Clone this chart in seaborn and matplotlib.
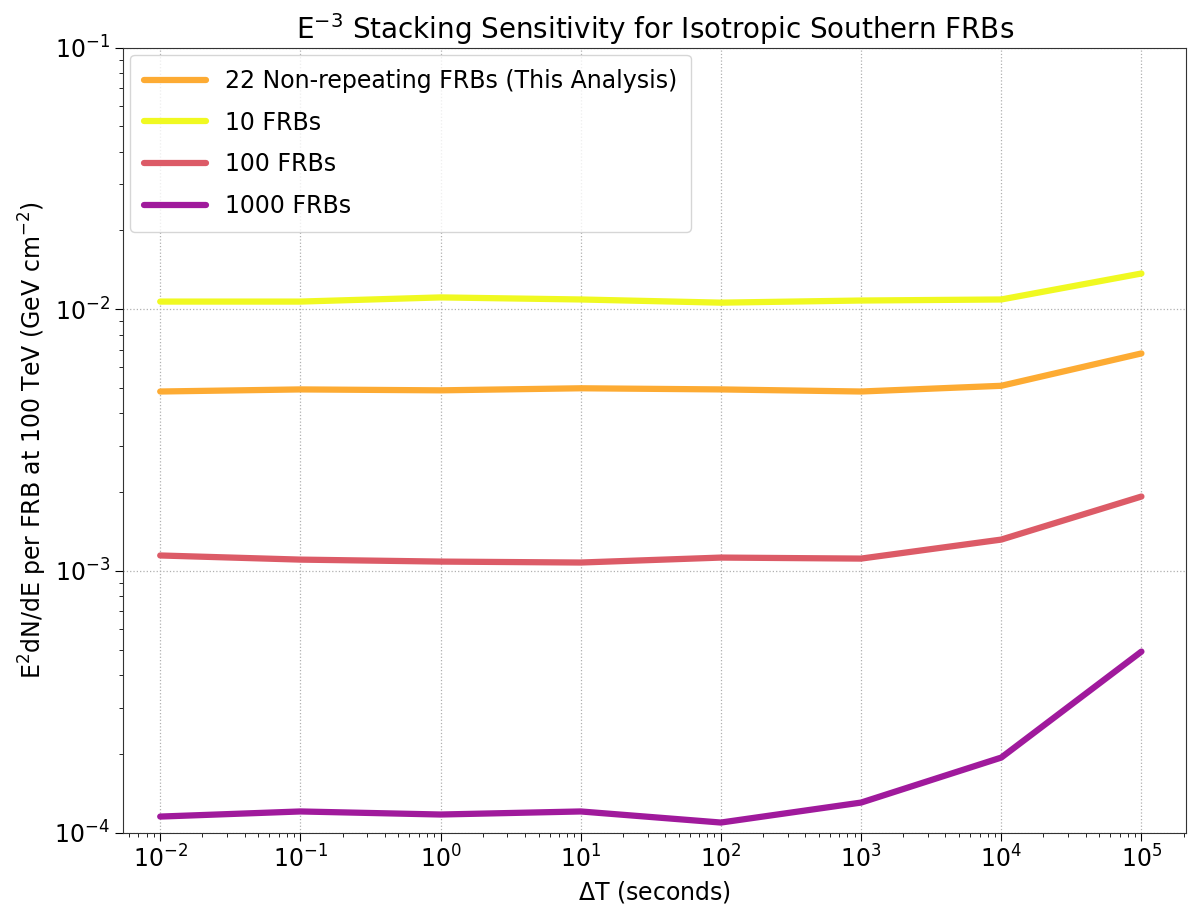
import numpy as np
import pandas as pd
import matplotlib
matplotlib.use("Agg")
import matplotlib.pyplot as plt
import seaborn as sns

# time windows (seconds)
delta_t = [1e-2, 1e-1, 1e0, 1e1, 1e2, 1e3, 1e4, 1e5]

# sensitivities (GeV cm^-2)
frb22 = [0.00485, 0.00494, 0.00490, 0.00499, 0.00494, 0.00485, 0.00510, 0.00678]
frb10 = [0.0107, 0.0107, 0.0111, 0.0109, 0.0106, 0.0108, 0.0109, 0.0137]
frb100 = [0.001146, 0.001105, 0.001086, 0.001077, 0.001125, 0.001115, 0.001318, 0.001925]
frb1000 = [0.0001152, 0.0001205, 0.0001173, 0.0001205, 0.0001093, 0.0001303, 0.0001936, 0.000492]

labels = ["22 Non-repeating FRBs (This Analysis)", "10 FRBs", "100 FRBs", "1000 FRBs"]
colors = ["#fdab33", "#f0f921", "#dc5b67", "#a01a9c"]

df = pd.DataFrame({
    "dt": delta_t * 4,
    "sens": frb22 + frb10 + frb100 + frb1000,
    "label": np.repeat(labels, len(delta_t)),
})

sns.set_style("ticks")
plt.rcParams["font.family"] = ["DejaVu Sans"]
plt.rcParams["mathtext.fontset"] = "dejavusans"

fig, ax = plt.subplots(figsize=(11.96, 9.15), dpi=100)
sns.lineplot(data=df, x="dt", y="sens", hue="label", hue_order=labels,
             palette=colors, linewidth=4.5, ax=ax)

ax.set_xscale("log")
ax.set_yscale("log")
ax.set_ylim(1e-4, 1e-1)
ax.set_xlim(10 ** -2.264, 10 ** 5.321)
ax.set_xticks(delta_t)
ax.grid(True, which="major", linestyle=":", color="#b0b0b0", linewidth=0.9)
ax.tick_params(axis="both", which="major", labelsize=17, length=6, colors="black")
ax.tick_params(axis="both", which="minor", length=3, colors="black")
for sp in ax.spines.values():
    sp.set_color("#333333")

ax.set_xlabel(r"$\Delta$T (seconds)", fontsize=17, color="black")
ax.set_ylabel(r"E$^2$dN/dE per FRB at 100 TeV (GeV cm$^{-2}$)", fontsize=17, color="black")
ax.set_title(r"E$^{-3}$ Stacking Sensitivity for Isotropic Southern FRBs", fontsize=20, color="black")

leg = ax.legend(loc="upper left", fontsize=17, framealpha=0.8, handlelength=2.6,
                labelspacing=0.75, borderaxespad=0.3, borderpad=0.6)
for line in leg.get_lines():
    line.set_linewidth(4.5)
for t in leg.get_texts():
    t.set_color("black")

plt.subplots_adjust(left=0.103, right=0.992, top=0.948, bottom=0.09)
plt.savefig("out.png", dpi=100)
